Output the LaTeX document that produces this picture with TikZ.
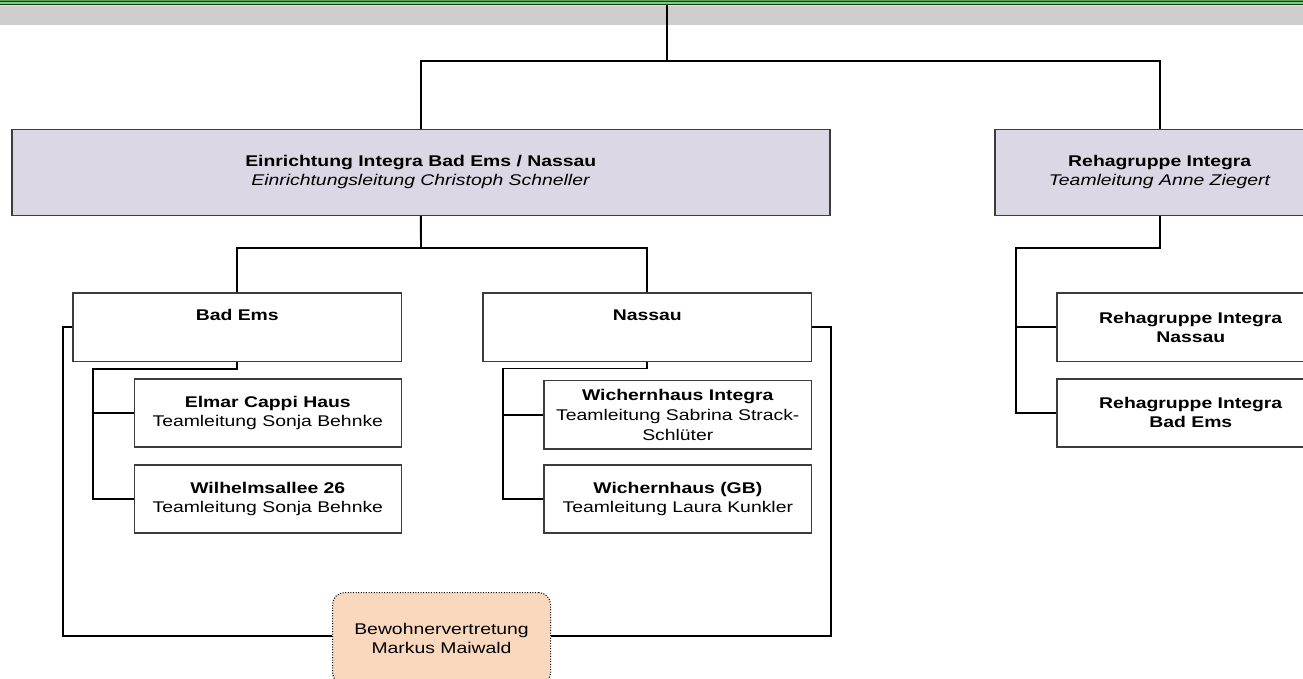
\documentclass[tikz,border=0pt]{standalone}
\usepackage{fontspec}
\setmainfont{Liberation Sans}[FakeStretch=1.25]
\definecolor{lav}{HTML}{DCD7E5}
\definecolor{peach}{HTML}{FAD8BE}
\definecolor{bordergray}{HTML}{3C3C3C}
\definecolor{bandgray}{HTML}{CECECE}
\definecolor{gdark}{HTML}{1E3A1E}
\definecolor{gmid}{HTML}{5E9E5E}
\definecolor{gbright}{HTML}{7CCF7C}
\definecolor{glight}{HTML}{C8F0C8}
\begin{document}
\begin{tikzpicture}[x=1pt,y=-1pt,
  box/.style={draw=bordergray, line width=1.6pt, rectangle, anchor=north west,
    inner sep=0pt, align=center, font=\fontsize{15.5}{19}\selectfont},
  conn/.style={draw=black, line width=1.9pt}]
\useasboundingbox (0,0) rectangle (1303,678);
\clip (0,0) rectangle (1303,678);
% top band
\fill[bandgray] (0,6) rectangle (1303,25);
\fill[gmid] (0,0) rectangle (1303,1);
\fill[gdark] (0,1) rectangle (1303,2);
\fill[gbright] (0,2) rectangle (1303,4);
\fill[gdark] (0,4) rectangle (1303,5);
\fill[glight] (0,5) rectangle (1303,6);
% boxes
\node[box, fill=lav, minimum width=818pt, minimum height=86pt] (ein) at (11,128.5)
  {\textbf{Einrichtung Integra Bad Ems / Nassau}\\\textit{Einrichtungsleitung Christoph Schneller}};
\node[box, fill=lav, minimum width=330pt, minimum height=86pt] (reha) at (994,128.5)
  {\textbf{Rehagruppe Integra}\\\textit{Teamleitung Anne Ziegert}};
\node[box, fill=white, minimum width=328.4pt, minimum height=68.4pt] (bad) at (72.3,292.3)
  {\textbf{Bad Ems}\\\strut};
\node[box, fill=white, minimum width=328.4pt, minimum height=68.4pt] (nas) at (482.3,292.3)
  {\textbf{Nassau}\\\strut};
\node[box, fill=white, minimum width=267pt, minimum height=68pt] (elmar) at (133.5,378)
  {\textbf{Elmar Cappi Haus}\\Teamleitung Sonja Behnke};
\node[box, fill=white, minimum width=267pt, minimum height=68pt] (wil) at (133.5,464)
  {\textbf{Wilhelmsallee 26}\\Teamleitung Sonja Behnke};
\node[box, fill=white, minimum width=267.4pt, minimum height=68.5pt, font=\fontsize{15.5}{20}\selectfont] (wint) at (543.3,379.5)
  {\textbf{Wichernhaus Integra}\\Teamleitung Sabrina Strack-\\Schlüter};
\node[box, fill=white, minimum width=267.4pt, minimum height=68pt] (wgb) at (543.3,464)
  {\textbf{Wichernhaus (GB)}\\Teamleitung Laura Kunkler};
\node[box, fill=white, minimum width=268pt, minimum height=68.4pt] (rna) at (1056,292.3)
  {\textbf{Rehagruppe Integra}\\\textbf{Nassau}};
\node[box, fill=white, minimum width=268pt, minimum height=68pt] (rbe) at (1056,378)
  {\textbf{Rehagruppe Integra}\\\textbf{Bad Ems}};
\node[box, fill=peach, draw=black, line width=1.1pt, dash pattern=on 1pt off 1.6pt,
  rounded corners=12pt, minimum width=218pt, minimum height=92pt] (bew) at (332,592)
  {Bewohnervertretung\\Markus Maiwald};
% connectors
\coordinate (topc) at (666.7,5);
\coordinate (tj) at (666.7,61);
\draw[conn] (topc) -- (tj);
\draw[conn] (ein.north) |- (tj) -| (reha.north);
\coordinate (ej) at (421,248);
\draw[conn] (ein.south) -- (ej);
\draw[conn] (bad.north) |- (ej) -| (nas.north);
\coordinate (bx) at (93,369);
\draw[conn] (bad.south) -- (bad.south |- bx) -- (bx) |- (wil.west);
\draw[conn] (bx |- elmar.west) -- (elmar.west);
\coordinate (nx) at (503,368.5);
\draw[conn] (nas.south) -- (nas.south |- nx) -- (nx) |- (wgb.west);
\draw[conn] (nx |- wint.west) -- (wint.west);
\coordinate (rx) at (1016,248);
\draw[conn] (reha.south) -- (reha.south |- rx) -- (rx) |- (rbe.west);
\draw[conn] (rx |- rna.west) -- (rna.west);
\coordinate (lx) at (62.7,636);
\draw[conn] (bad.west) -| (lx) -- (lx -| bew.west);
\coordinate (rx2) at (830.7,636);
\draw[conn] (nas.east) -| (rx2) -- (rx2 -| bew.east);
\end{tikzpicture}
\end{document}
